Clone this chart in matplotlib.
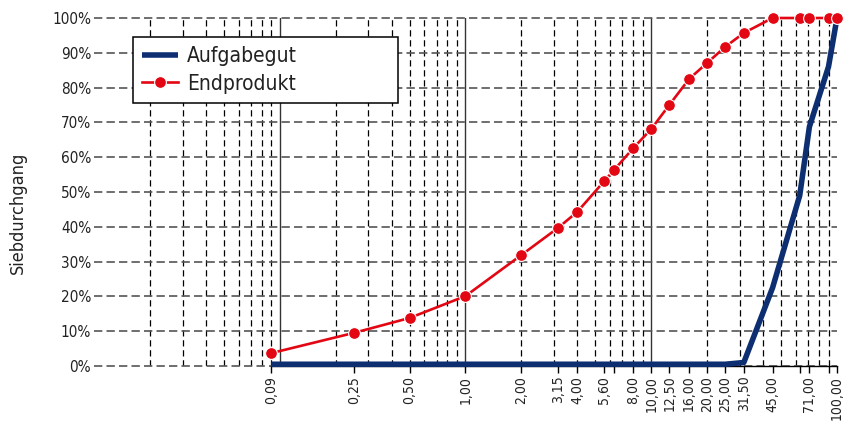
import matplotlib
matplotlib.use("Agg")
import matplotlib.pyplot as plt
from matplotlib import font_manager as fm
from matplotlib.ticker import FixedLocator, NullLocator

# ---- data ----
sizes_end = [0.09, 0.25, 0.5, 1.0, 2.0, 3.15, 4.0, 5.6, 6.3, 8.0, 10.0, 12.5, 16.0, 20.0, 25.0, 31.5, 45.0, 63.0, 71.0, 90.0, 100.0]
endprodukt = [3.7, 9.5, 13.8, 20.1, 31.9, 39.7, 44.3, 53.2, 56.3, 62.6, 68.1, 75.0, 82.5, 87.1, 91.7, 95.7, 100, 100, 100, 100, 100]

sizes_feed = [0.09, 0.25, 0.5, 1.0, 2.0, 3.15, 4.0, 5.6, 6.3, 8.0, 10.0, 12.5, 16.0, 20.0, 25.0, 31.5, 45.0, 63.0, 71.0, 90.0, 100.0]
aufgabegut = [0.5, 0.5, 0.5, 0.5, 0.5, 0.5, 0.5, 0.5, 0.5, 0.5, 0.5, 0.5, 0.5, 0.5, 0.5, 1.0, 22.5, 49.0, 68.7, 86.0, 100]

tick_positions = [0.09, 0.25, 0.5, 1.0, 2.0, 3.15, 4.0, 5.6, 6.3, 8.0, 10.0, 12.5, 16.0, 20.0, 25.0, 31.5, 45.0, 63.0, 71.0, 90.0, 100.0]
tick_labels = ["0,09", "0,25", "0,50", "1,00", "2,00", "3,15", "4,00", "5,60", "", "8,00", "10,00", "12,50",
               "16,00", "20,00", "25,00", "31,50", "45,00", "", "71,00", "", "100,00"]
y_ticks = [0, 10, 20, 30, 40, 50, 60, 70, 80, 90, 100]
y_labels = ["0%", "10%", "20%", "30%", "40%", "50%", "60%", "70%", "80%", "90%", "100%"]

cond = [f for f in fm.fontManager.ttflist if "ondensed" in f.fname or "Narrow" in f.fname]
if cond:
    FONT = [cond[0].name, "DejaVu Sans"]
    plt.rcParams["font.stretch"] = "condensed"
else:
    FONT = ["Roboto", "DejaVu Sans"]
plt.rcParams["font.family"] = FONT

W, H = 854, 421
fig = plt.figure(figsize=(W / 100, H / 100), dpi=100)
ax = fig.add_axes([94 / W, (H - 366) / H, (837 - 94) / W, (366 - 18) / H])

ax.set_xscale("log")
ax.set_xlim(0.01, 100)
ax.set_ylim(0, 100)

minor_v = [m * 10 ** e for e in (-2, -1, 0, 1) for m in range(2, 10)]
for xv in minor_v:
    ax.axvline(xv, color="black", lw=0.9, ls=(0, (5, 3)), zorder=1)
for xv in (0.1, 1, 10):
    ax.axvline(xv, color="#333333", lw=1.0, zorder=1)
for yv in y_ticks:
    ax.axhline(yv, color="#555555", lw=1.2, ls=(0, (5, 2.5)), zorder=1, clip_on=False)

ax.plot(sizes_feed, aufgabegut, color="#0d2f72", lw=4.0, solid_capstyle="butt",
        label="Aufgabegut", zorder=3, clip_on=False)
ax.plot(sizes_end, endprodukt, color="#e30613", lw=1.9, marker="o", markersize=8.5,
        markerfacecolor="#e30613", markeredgecolor="white", markeredgewidth=0.8,
        label="Endprodukt", zorder=4, clip_on=False)

for s in ("top", "right", "left"):
    ax.spines[s].set_visible(False)
ax.spines["bottom"].set_bounds(0.09, 100)
ax.spines["bottom"].set_color("black")
ax.spines["bottom"].set_linewidth(1.0)
ax.spines["bottom"].set_zorder(2)

ax.xaxis.set_major_locator(FixedLocator(tick_positions))
ax.xaxis.set_minor_locator(NullLocator())
ax.set_xticklabels(tick_labels, rotation=90, fontsize=10)
ax.tick_params(axis="x", direction="out", length=5, width=1, color="black", pad=2,
               labelcolor="#222222")

ax.set_yticks(y_ticks)
ax.set_yticklabels(y_labels, fontsize=11)
ax.tick_params(axis="y", length=0, pad=2, labelcolor="#222222")

ax.set_ylabel("Siebdurchgang", fontsize=13, color="#222222")
ax.yaxis.set_label_coords(-0.09, 0.44)

leg = ax.legend(loc="upper left", bbox_to_anchor=(133 / W, (H - 37) / H, 265 / W, 0.0),
                bbox_transform=fig.transFigure, mode="expand", fancybox=False,
                framealpha=1, edgecolor="black", fontsize=15, handlelength=1.7,
                handletextpad=0.45, borderpad=0.45, labelspacing=0.35, borderaxespad=0)
leg.get_frame().set_linewidth(1.1)
for t in leg.get_texts():
    t.set_color("#222222")
leg.set_zorder(10)

fig.savefig("out.png", dpi=100)
